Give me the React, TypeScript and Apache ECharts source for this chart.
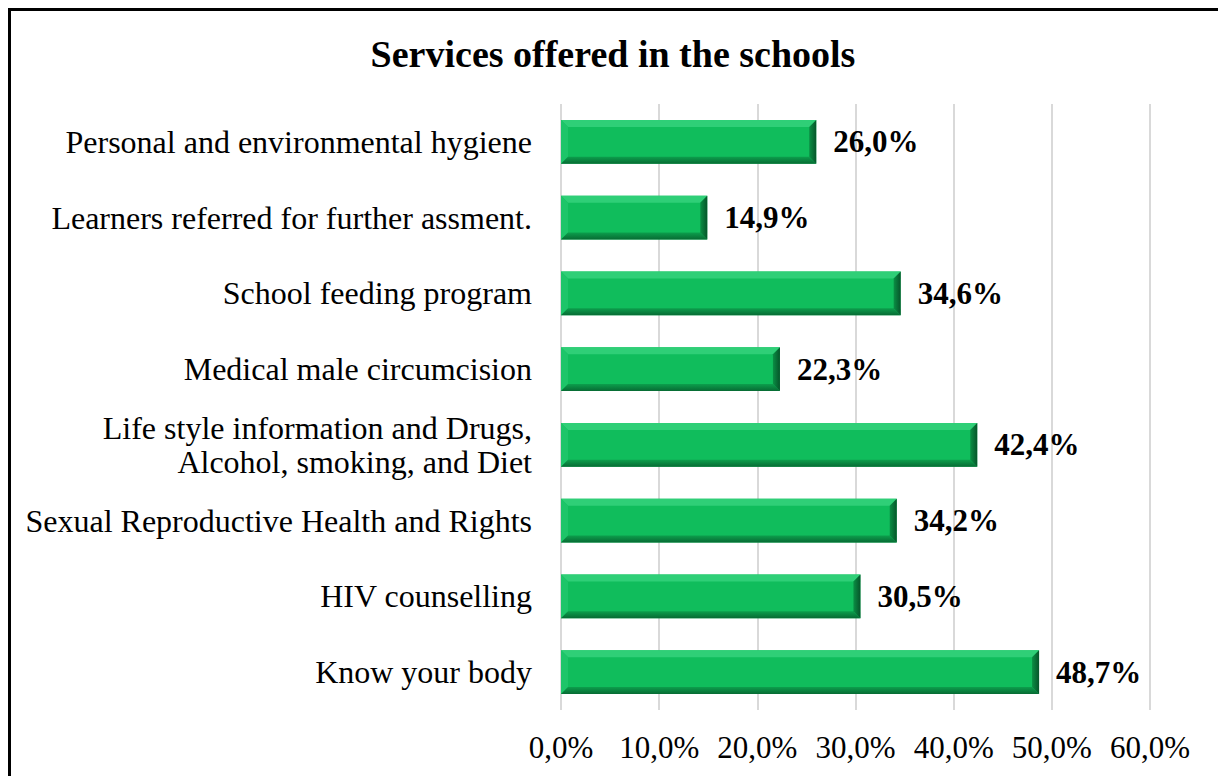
import React, { useEffect, useRef } from "react";
import * as echarts from "echarts";

const categories = [
  "Personal and environmental hygiene",
  "Learners referred for further assment.",
  "School feeding program",
  "Medical male circumcision",
  "Life style information and Drugs,\nAlcohol, smoking, and Diet",
  "Sexual Reproductive Health and Rights",
  "HIV counselling",
  "Know your body",
];
const values = [26.0, 14.9, 34.6, 22.3, 42.4, 34.2, 30.5, 48.7];
const axisTicks = [0, 10, 20, 30, 40, 50, 60];

const FONT = "'Liberation Serif', 'Times New Roman', serif";
const BAR_RATIO = 0.58;

export default function App() {
  const ref = useRef<HTMLDivElement>(null);
  useEffect(() => {
    document.body.style.margin = "0";
    const chart = echarts.init(ref.current!, null, { renderer: "svg" });
    const fmt = (v: number) => v.toFixed(1).replace(".", ",") + "%";
    chart.setOption({
      animation: false,
      backgroundColor: "#ffffff",
      title: {
        text: "Services offered in the schools",
        left: 608,
        textAlign: "center",
        top: 30,
        textStyle: { fontFamily: FONT, fontSize: 38, fontWeight: "bold", color: "#000" },
      },
      graphic: [
        {
          type: "rect",
          shape: { x: 9.5, y: 9.5, width: 1300, height: 900 },
          style: { fill: "none", stroke: "#000", lineWidth: 3 },
          silent: true,
        },
      ],
      grid: { left: 561, right: 68, top: 104, bottom: 66, containLabel: false },
      xAxis: {
        type: "value",
        min: axisTicks[0],
        max: axisTicks[axisTicks.length - 1],
        interval: 10,
        axisLine: { show: false },
        axisTick: { show: false },
        splitLine: { show: true, lineStyle: { color: "#d9d9d9", width: 2 } },
        axisLabel: {
          fontFamily: FONT,
          fontSize: 31,
          color: "#000",
          margin: 22,
          formatter: (v: number) => fmt(v),
        },
      },
      yAxis: {
        type: "category",
        inverse: true,
        data: categories,
        axisLine: { show: false },
        axisTick: { show: false },
        axisLabel: {
          fontFamily: FONT,
          fontSize: 32,
          color: "#000",
          margin: 29,
          align: "right",
          lineHeight: 34,
        },
      },
      series: [
        {
          type: "bar",
          data: values,
          barCategoryGap: "42%",
          itemStyle: { color: "#10bd5c" },
          label: {
            show: true,
            position: "right",
            distance: 17,
            fontFamily: FONT,
            fontSize: 31,
            fontWeight: "bold",
            color: "#000",
            formatter: (p: any) => fmt(p.value),
          },
          z: 2,
        },
        {
          type: "custom",
          data: values.map((v, i) => [v, i]),
          encode: { x: 0, y: 1 },
          z: 3,
          silent: true,
          renderItem: (params: any, api: any) => {
            const v = api.value(0);
            const idx = api.value(1);
            const end = api.coord([v, idx]);
            const start = api.coord([0, idx]);
            const h = api.size([0, 1])[1] * BAR_RATIO;
            const x0 = start[0];
            const x1 = end[0];
            const y0 = end[1] - h / 2;
            const y1 = end[1] + h / 2;
            const b = 7;
            return {
              type: "group",
              children: [
                {
                  type: "polygon",
                  shape: { points: [[x0, y0], [x1, y0], [x1 - b, y0 + b], [x0 + b, y0 + b]] },
                  style: { fill: "#2fcf77" },
                },
                {
                  type: "polygon",
                  shape: { points: [[x0, y0], [x0 + b, y0 + b], [x0 + b, y1 - b], [x0, y1]] },
                  style: { fill: "#1dc569" },
                },
                {
                  type: "polygon",
                  shape: { points: [[x0, y1], [x0 + b, y1 - b], [x1 - b, y1 - b], [x1, y1]] },
                  style: {
                    fill: new echarts.graphic.LinearGradient(0, 0, 0, 1, [
                      { offset: 0, color: "#0c9e4c" },
                      { offset: 1, color: "#076a33" },
                    ]),
                  },
                },
                {
                  type: "polygon",
                  shape: { points: [[x1, y0], [x1, y1], [x1 - b, y1 - b], [x1 - b, y0 + b]] },
                  style: {
                    fill: new echarts.graphic.LinearGradient(0, 0, 1, 0, [
                      { offset: 0, color: "#0a8f44" },
                      { offset: 1, color: "#06552a" },
                    ]),
                  },
                },
              ],
            };
          },
        },
      ],
    });
    return () => chart.dispose();
  }, []);
  return <div ref={ref} style={{ width: 1218, height: 776, overflow: "hidden" }} />;
}
